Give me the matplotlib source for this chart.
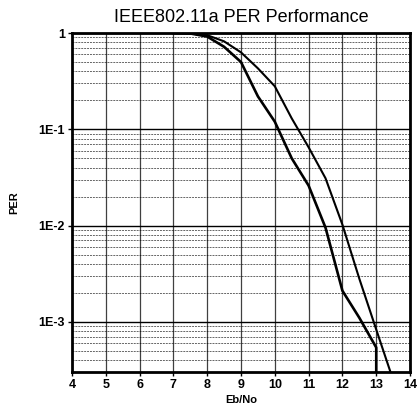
import matplotlib
matplotlib.use("Agg")
import matplotlib.pyplot as plt
from matplotlib.ticker import FixedLocator, LogLocator, NullFormatter

plt.rcParams['font.family'] = ['Liberation Sans', 'DejaVu Sans']

ebno_a = [7.0, 7.5, 8.0, 8.5, 9.0, 9.5, 10.0, 10.5, 11.0, 11.5, 12.0, 12.5, 13.0, 13.0]
per_a = [1.0, 0.99, 0.92, 0.72, 0.50, 0.22, 0.12, 0.05, 0.026, 0.0095, 0.0021, 0.0011, 0.00054, 0.00001]

ebno_b = [7.0, 7.5, 8.0, 8.5, 9.0, 9.5, 10.0, 10.5, 11.0, 11.5, 12.0, 12.5, 13.0, 13.45]
per_b = [1.0, 0.99, 0.95, 0.82, 0.63, 0.43, 0.28, 0.13, 0.065, 0.031, 0.0102, 0.0028, 0.00083, 0.00028]

x_ticks = [4, 5, 6, 7, 8, 9, 10, 11, 12, 13, 14]
y_ticks = [1, 1e-1, 1e-2, 1e-3]
y_labels = ["1", "1E-1", "1E-2", "1E-3"]

fig = plt.figure(figsize=(4.18, 4.08), dpi=100)
ax = fig.add_axes([0.172, 0.088, 0.809, 0.831])

ax.plot(ebno_a, per_a, color='black', lw=1.9, zorder=3)
ax.plot(ebno_b, per_b, color='black', lw=1.5, zorder=3)

ax.set_yscale('log')
ax.set_xlim(4, 14)
ax.set_ylim(3.0e-4, 1.0)

ax.xaxis.set_major_locator(FixedLocator(x_ticks))
ax.set_xticklabels([str(v) for v in x_ticks], fontweight='bold', fontsize=9)
ax.yaxis.set_major_locator(FixedLocator(y_ticks))
ax.set_yticklabels(y_labels, fontweight='bold', fontsize=9)
ax.yaxis.set_minor_locator(LogLocator(base=10, subs=range(2, 10)))
ax.yaxis.set_minor_formatter(NullFormatter())
ax.tick_params(axis='y', which='minor', length=0)
ax.tick_params(axis='both', which='major', length=3, width=1, pad=2)

ax.grid(True, axis='x', which='major', color='black', lw=0.9, alpha=0.75)
ax.grid(True, axis='y', which='major', color='black', lw=1.0)
ax.grid(True, axis='y', which='minor', color='black', lw=0.7, ls=(0, (2, 1)), alpha=0.6)

for s in ax.spines.values():
    s.set_linewidth(2.0)

ax.set_title("IEEE802.11a PER Performance", fontsize=13, pad=8)
ax.set_xlabel("Eb/No", fontsize=8, fontweight='bold', labelpad=3)
ax.set_ylabel("PER", fontsize=8, fontweight='bold', labelpad=14)

fig.savefig("out.png", dpi=100)
